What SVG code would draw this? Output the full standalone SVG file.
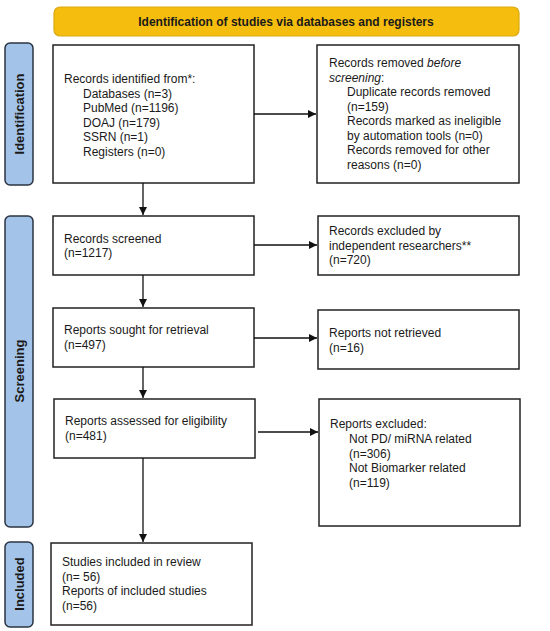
<svg xmlns="http://www.w3.org/2000/svg" width="550" height="631" viewBox="0 0 550 631">
<style>
.bx{fill:#fff;stroke:#222;stroke-width:1.5}
.side{fill:#a4c3e8;stroke:#2b3442;stroke-width:1.5}
.t{font-family:"Liberation Sans",Arial,sans-serif;font-size:12px;fill:#1a1a1a}
.b{font-family:"Liberation Sans",Arial,sans-serif;font-size:12px;font-weight:bold;fill:#1a1a1a}
.sl{font-family:"Liberation Sans",Arial,sans-serif;font-size:13px;font-weight:bold;fill:#1a1a1a;text-anchor:middle}
.ln{stroke:#111;stroke-width:1.3;fill:none}
</style>
<defs>
<marker id="ah" markerWidth="10" markerHeight="10" refX="8" refY="4" orient="auto" markerUnits="userSpaceOnUse">
<path d="M0,0 L8,4 L0,8 Z" fill="#111"/>
</marker>
</defs>
<rect width="550" height="631" fill="#fff"/>

<g id="banner">
<rect x="54" y="7" width="465" height="29" rx="6" fill="#f5bd0e" stroke="#dba912" stroke-width="1.2"/>
<text class="b" x="286" y="25.5" text-anchor="middle">Identification of studies via databases and registers</text>
</g>

<g id="side-identification">
<rect class="side" x="5" y="43" width="28" height="142" rx="5"/>
<text class="sl" transform="translate(24,114) rotate(-90)">Identification</text>
</g>
<g id="side-screening">
<rect class="side" x="5" y="216" width="28" height="311" rx="5"/>
<text class="sl" transform="translate(24,371) rotate(-90)">Screening</text>
</g>
<g id="side-included">
<rect class="side" x="5" y="542" width="28" height="85" rx="5"/>
<text class="sl" transform="translate(24,584) rotate(-90)">Included</text>
</g>

<g id="records-identified">
<rect class="bx" x="53" y="45" width="201" height="138"/>
<text class="t" x="64" y="83">Records identified from*:</text>
<text class="t" x="83" y="97.5">Databases (n=3)</text>
<text class="t" x="83" y="112">PubMed (n=1196)</text>
<text class="t" x="83" y="126.5">DOAJ (n=179)</text>
<text class="t" x="83" y="141">SSRN (n=1)</text>
<text class="t" x="83" y="155.5">Registers (n=0)</text>
</g>

<g id="records-removed">
<rect class="bx" x="317" y="45" width="202" height="138"/>
<text class="t" x="329" y="67">Records removed <tspan font-style="italic">before</tspan></text>
<text class="t" x="329" y="81.5"><tspan font-style="italic">screening</tspan>:</text>
<text class="t" x="347" y="96">Duplicate records removed</text>
<text class="t" x="347" y="110.5">(n=159)</text>
<text class="t" x="347" y="125">Records marked as ineligible</text>
<text class="t" x="347" y="139.5">by automation tools (n=0)</text>
<text class="t" x="347" y="154">Records removed for other</text>
<text class="t" x="347" y="168.5">reasons (n=0)</text>
</g>

<g id="records-screened">
<rect class="bx" x="53" y="216" width="201" height="59"/>
<text class="t" x="64" y="243">Records screened</text>
<text class="t" x="64" y="257">(n=1217)</text>
</g>

<g id="records-excluded">
<rect class="bx" x="318" y="216" width="201" height="59"/>
<text class="t" x="329" y="235">Records excluded by</text>
<text class="t" x="329" y="249.5">independent researchers**</text>
<text class="t" x="329" y="264">(n=720)</text>
</g>

<g id="reports-sought">
<rect class="bx" x="53" y="308" width="201" height="59"/>
<text class="t" x="64" y="334">Reports sought for retrieval</text>
<text class="t" x="64" y="348.5">(n=497)</text>
</g>

<g id="reports-not-retrieved">
<rect class="bx" x="318" y="310" width="201" height="59"/>
<text class="t" x="329" y="337">Reports not retrieved</text>
<text class="t" x="329" y="351.5">(n=16)</text>
</g>

<g id="reports-assessed">
<rect class="bx" x="54" y="399" width="201" height="59"/>
<text class="t" x="65" y="425">Reports assessed for eligibility</text>
<text class="t" x="65" y="440">(n=481)</text>
</g>

<g id="reports-excluded">
<rect class="bx" x="319" y="399" width="201" height="127"/>
<text class="t" x="330" y="428">Reports excluded:</text>
<text class="t" x="349" y="443">Not PD/ miRNA related</text>
<text class="t" x="349" y="457.5">(n=306)</text>
<text class="t" x="349" y="472">Not Biomarker related</text>
<text class="t" x="349" y="486.5">(n=119)</text>
</g>

<g id="studies-included">
<rect class="bx" x="51" y="543" width="201" height="82"/>
<text class="t" x="62" y="566">Studies included in review</text>
<text class="t" x="62" y="580.5">(n= 56)</text>
<text class="t" x="62" y="595">Reports of included studies</text>
<text class="t" x="62" y="609.5">(n=56)</text>
</g>

<g id="connectors">
<line class="ln" x1="143" y1="183" x2="143" y2="215" marker-end="url(#ah)"/>
<line class="ln" x1="143" y1="275" x2="143" y2="307" marker-end="url(#ah)"/>
<line class="ln" x1="143" y1="367" x2="143" y2="398" marker-end="url(#ah)"/>
<line class="ln" x1="143" y1="458" x2="143" y2="542" marker-end="url(#ah)"/>
<line class="ln" x1="254" y1="114" x2="316" y2="114" marker-end="url(#ah)"/>
<line class="ln" x1="254" y1="245" x2="317" y2="245" marker-end="url(#ah)"/>
<line class="ln" x1="254" y1="338" x2="317" y2="338" marker-end="url(#ah)"/>
<line class="ln" x1="258" y1="432" x2="318" y2="432" marker-end="url(#ah)"/>
</g>
</svg>
